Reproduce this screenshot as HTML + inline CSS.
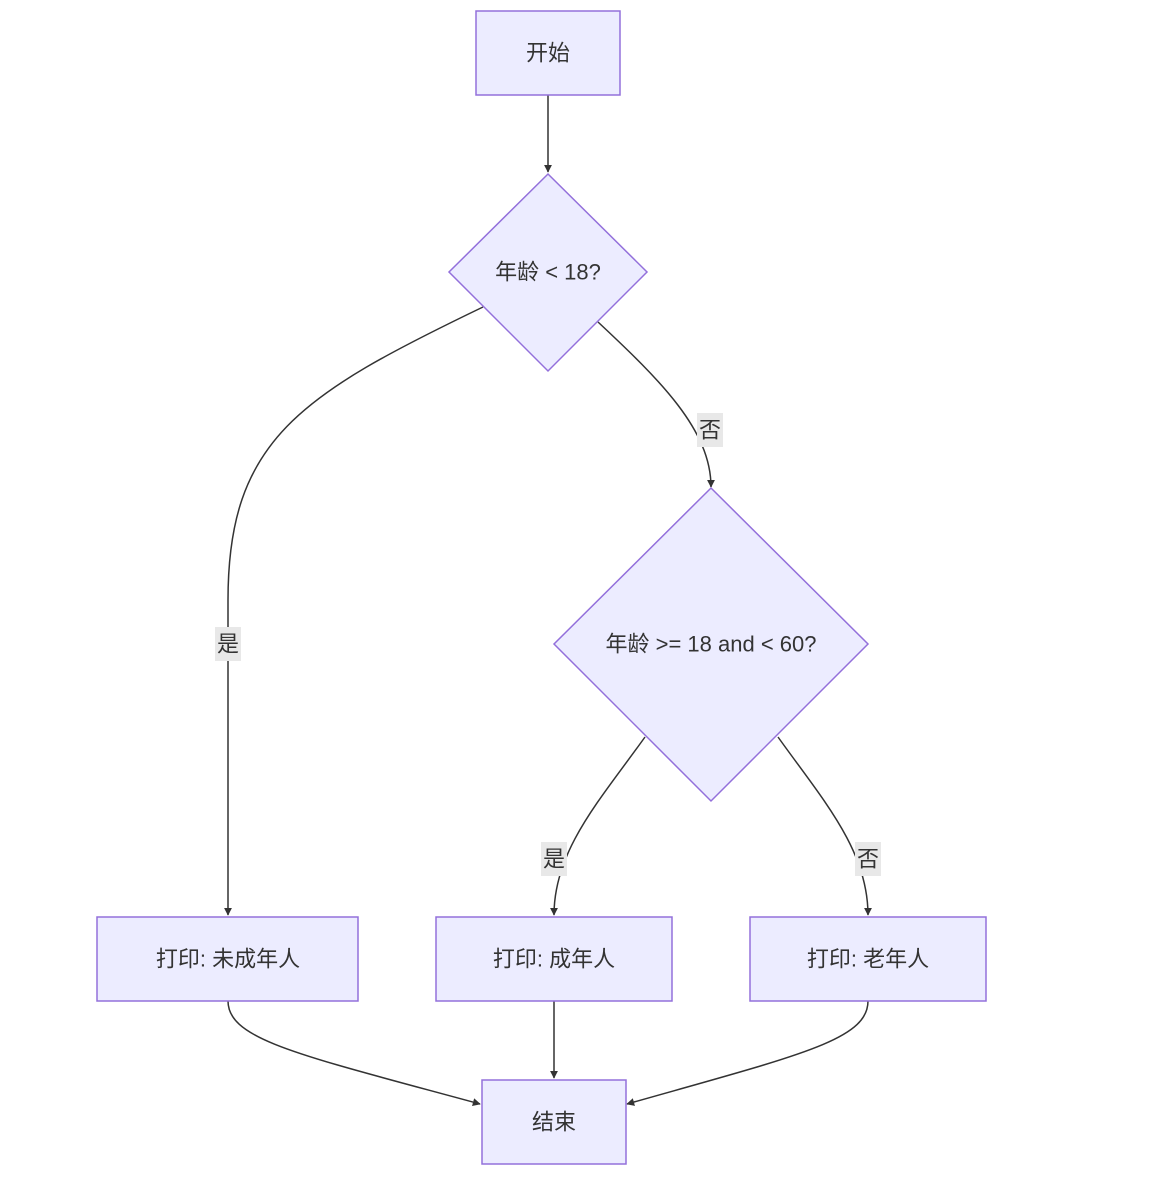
<!DOCTYPE html>
<html><head><meta charset="utf-8"><style>
html,body{margin:0;padding:0;background:#fff;}
svg text{font-family:"Liberation Sans","Noto Sans CJK SC",sans-serif;fill:#333;font-size:22px;}
</style></head><body>
<svg width="1154" height="1172" viewBox="0 0 1154 1172" xmlns="http://www.w3.org/2000/svg">
<defs>
<marker id="a" viewBox="0 0 10 10" refX="9" refY="5" markerWidth="8" markerHeight="8" orient="auto-start-reverse" markerUnits="userSpaceOnUse">
<path d="M0,0 L10,5 L0,10 z" fill="#333"/>
</marker>
</defs>
<g fill="none" stroke="#333" stroke-width="1.5">
<path d="M548,95 L548,172" marker-end="url(#a)"/>
<path d="M483,307 C300,395 228,440 228,600 L228,915" marker-end="url(#a)"/>
<path d="M598,322 C660,380 711,430 711,487" marker-end="url(#a)"/>
<path d="M645,737 C600,800 554,850 554,915" marker-end="url(#a)"/>
<path d="M778,737 C823,800 868,850 868,915" marker-end="url(#a)"/>
<path d="M228,1001 C228,1040 300,1055 480,1104" marker-end="url(#a)"/>
<path d="M554,1001 L554,1078" marker-end="url(#a)"/>
<path d="M868,1001 C868,1040 800,1055 627,1104" marker-end="url(#a)"/>
</g>
<g fill="#ECECFF" stroke="#9370DB" stroke-width="1.5">
<rect x="476" y="11" width="144" height="84"/>
<polygon points="548,174 647,272 548,371 449,272"/>
<polygon points="711,488 868,644 711,801 554,644"/>
<rect x="97" y="917" width="261" height="84"/>
<rect x="436" y="917" width="236" height="84"/>
<rect x="750" y="917" width="236" height="84"/>
<rect x="482" y="1080" width="144" height="84"/>
</g>
<g fill="#e8e8e8">
<rect x="215" y="627" width="26" height="34"/>
<rect x="697" y="413" width="26" height="34"/>
<rect x="541" y="842" width="26" height="34"/>
<rect x="855" y="842" width="26" height="34"/>
</g>
<g text-anchor="middle" dominant-baseline="central">
<text x="548" y="53">开始</text>
<text x="548" y="272">年龄 &lt; 18?</text>
<text x="711" y="644">年龄 &gt;= 18 and &lt; 60?</text>
<text x="228" y="959">打印: 未成年人</text>
<text x="554" y="959">打印: 成年人</text>
<text x="868" y="959">打印: 老年人</text>
<text x="554" y="1122">结束</text>
<text x="228" y="644">是</text>
<text x="710" y="430">否</text>
<text x="554" y="859">是</text>
<text x="868" y="859">否</text>
</g>
</svg>
</body></html>
